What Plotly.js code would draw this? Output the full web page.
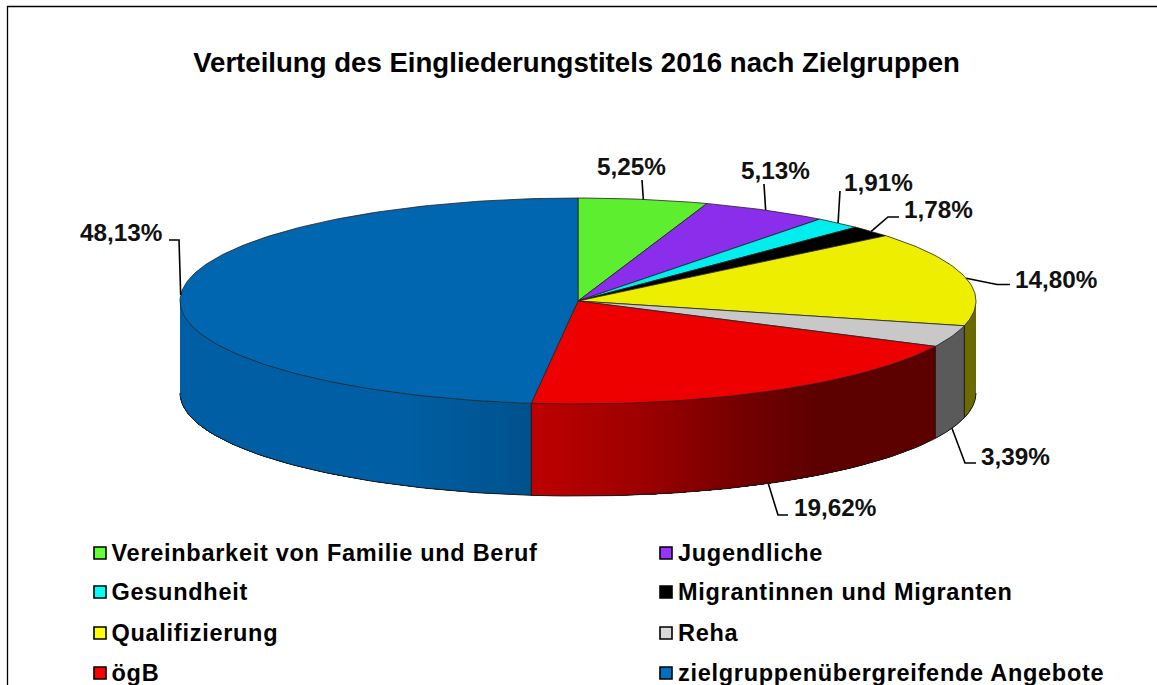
<!DOCTYPE html>
<html><head><meta charset="utf-8">
<script src="https://cdn.plot.ly/plotly-3.0.1.min.js"></script>
<style>html,body{margin:0;padding:0;background:#fff;overflow:hidden}</style>
</head><body><div id="chart" style="width:1157px;height:685px"></div>
<script>
const categories = ["Vereinbarkeit von Familie und Beruf","Jugendliche","Gesundheit","Migrantinnen und Migranten","Qualifizierung","Reha","ögB","zielgruppenübergreifende Angebote"];
const values = [5.25,5.13,1.91,1.78,14.80,3.39,19.62,48.13];
const valueLabels = ["5,25%","5,13%","1,91%","1,78%","14,80%","3,39%","19,62%","48,13%"];
const topColors = [[92,238,47],[138,46,235],[0,238,238],[0,0,0],[238,238,0],[200,200,200],[238,0,0],[0,102,176]];
const legendColors = ["#66FF33","#9933FF","#00FFFF","#000000","#FFFF00","#D9D9D9","#FF0000","#0070C0"];
const titleText = "Verteilung des Eingliederungstitels 2016 nach Zielgruppen";

// letter-spacing for the legend labels (annotation indices 8..15)
const st=document.createElement('style');
st.textContent=categories.map((c,i)=>`.annotation[data-index="${i+8}"] text`).join(',')+'{letter-spacing:.72px}';
document.head.appendChild(st);

// Pie geometry (pixel-mapped axes)
const CX=578, CY=301, RX=398, RY=103, DEPTH=92;
const pt=(deg,dy=0)=>{const a=deg*Math.PI/180;return [CX+RX*Math.sin(a),CY-RY*Math.cos(a)+dy];};
// wall shading factor over x
const shadeX=[180,400,530,640,760,820,1000], shadeF=[.93,.93,.8,.66,.46,.39,.39];
const shade=x=>{for(let i=1;i<shadeX.length;i++){if(x<=shadeX[i]){const t=(x-shadeX[i-1])/(shadeX[i]-shadeX[i-1]);return shadeF[i-1]+t*(shadeF[i]-shadeF[i-1]);}}return shadeF[shadeF.length-1];};
const wallF=[1,1,1,1,.45/.39,.45/.39,1,1];

const total=values.reduce((a,b)=>a+b,0);
let cum=0;
const spans=values.map(v=>{const s=cum/total*360;cum+=v;return [s,cum/total*360];});
const traces=[];
const base={type:'scatter',mode:'lines',hoverinfo:'skip',showlegend:false,cliponaxis:false};

// side walls: overlapping strips so no seams show
spans.forEach(([a,b],i)=>{
  const from=Math.max(a,90), to=Math.min(b,270);
  if(to<=from) return;
  const n=Math.max(1,Math.ceil((to-from)/1.5));
  for(let k=0;k<n;k++){
    const t0=from+(to-from)*k/n, t1=to;
    const xs=[],ys=[];
    const steps=Math.max(2,Math.ceil((t1-t0)/2));
    for(let s=0;s<=steps;s++){const p=pt(t0+(t1-t0)*s/steps);xs.push(p[0]);ys.push(p[1]);}
    for(let s=steps;s>=0;s--){const p=pt(t0+(t1-t0)*s/steps,DEPTH);xs.push(p[0]);ys.push(p[1]);}
    xs.push(xs[0]);ys.push(ys[0]);
    const px=pt(t0+(to-from)/n/2)[0];
    const f=shade(px)*wallF[i];
    const c='rgb('+topColors[i].map(v=>Math.round(v*f)).join(',')+')';
    traces.push({...base,x:xs,y:ys,fill:'toself',fillcolor:c,line:{color:c,width:0}});
  }
  // edge lines
  const xs=[],ys=[];
  for(let d=from;d<=to+1e-6;d+=(to-from)/60){const p=pt(d,DEPTH);xs.push(p[0]);ys.push(p[1]);}
  traces.push({...base,x:xs,y:ys,line:{color:'#1a1a1a',width:1}});
  if(from>90){const p=pt(from),q=pt(from,DEPTH);traces.push({...base,x:[p[0],q[0]],y:[p[1],q[1]],line:{color:'#1a1a1a',width:1}});}
});

// top faces
spans.forEach(([a,b],i)=>{
  const xs=[CX],ys=[CY];
  const n=Math.max(4,Math.ceil((b-a)/1));
  for(let k=0;k<=n;k++){const p=pt(a+(b-a)*k/n);xs.push(p[0]);ys.push(p[1]);}
  xs.push(CX);ys.push(CY);
  traces.push({...base,x:xs,y:ys,fill:'toself',fillcolor:'rgb('+topColors[i].join(',')+')',line:{color:'#222222',width:.8},name:categories[i]});
});

// leader lines: each starts at the slice mid-angle on the rim; elbows are layout offsets
const leaderPts=[[[642,180]],[[764,184]],[[840,191]],[[888,217],[899,217]],[[997,284.5],[1010,284.5]],[[965,463],[976,463]],[[778,515],[788,515]],[[179,240],[169,240]]];
const labelPos=[[631,166],[775,170],[878,182],[938,209],[1056,279],[1015,456],[835,507],[121,232]];
const annotations=[];
spans.forEach(([a,b],i)=>{
  const mid=(a+b)/2;
  const p=pt(mid,(mid>90&&mid<270)?DEPTH:0);
  const xs=[p[0],...leaderPts[i].map(q=>q[0])], ys=[p[1],...leaderPts[i].map(q=>q[1])];
  traces.push({...base,x:xs,y:ys,line:{color:'#000',width:1.6}});
  annotations.push({xref:'x',yref:'y',x:labelPos[i][0],y:labelPos[i][1],text:valueLabels[i],showarrow:false,xanchor:'center',yanchor:'middle',font:{family:'Liberation Sans',size:24.3,color:'#111',weight:700}});
});

// legend rows
const legX=[100,666], legTextX=[111.5,678], legY=[553,592,633,673];
categories.forEach((c,i)=>{
  const col=i%2,row=Math.floor(i/2);
  traces.push({...base,mode:'markers',x:[legX[col]],y:[legY[row]],marker:{symbol:'square',size:12,color:legendColors[i],line:{color:'#000',width:1.6}},name:c});
  annotations.push({xref:'x',yref:'y',x:legTextX[col],y:legY[row],text:c,showarrow:false,xanchor:'left',yanchor:'middle',font:{family:'Liberation Sans',size:23.5,color:'#000',weight:700}});
});

const layout={
  width:1157,height:685,margin:{l:0,r:0,t:0,b:0},paper_bgcolor:'#fff',plot_bgcolor:'#fff',showlegend:false,
  title:{text:titleText,x:576.5/1157,xanchor:'center',y:1-62/685,yanchor:'middle',font:{family:'Liberation Sans',size:27.6,color:'#000',weight:700}},
  xaxis:{range:[0,1157],visible:false,fixedrange:true},
  yaxis:{range:[685,0],visible:false,fixedrange:true},
  annotations,
  shapes:[{type:'path',xref:'x',yref:'y',path:'M 7.5 690 L 7.5 6.5 L 1160 6.5',line:{color:'#000',width:1.3}}]
};
Plotly.newPlot('chart',traces,layout,{displayModeBar:false,staticPlot:true}).then(()=>{
  // the spacing widens the text around its centre, so pull each label back to its left edge
  categories.forEach((c,i)=>{
    const t=document.querySelector(`.annotation[data-index="${i+8}"] text`);
    if(!t) return;
    const left=t.getBoundingClientRect().left;
    t.setAttribute('x',(+t.getAttribute('x')||0)+legTextX[i%2]-left);
  });
});
</script></body></html>
